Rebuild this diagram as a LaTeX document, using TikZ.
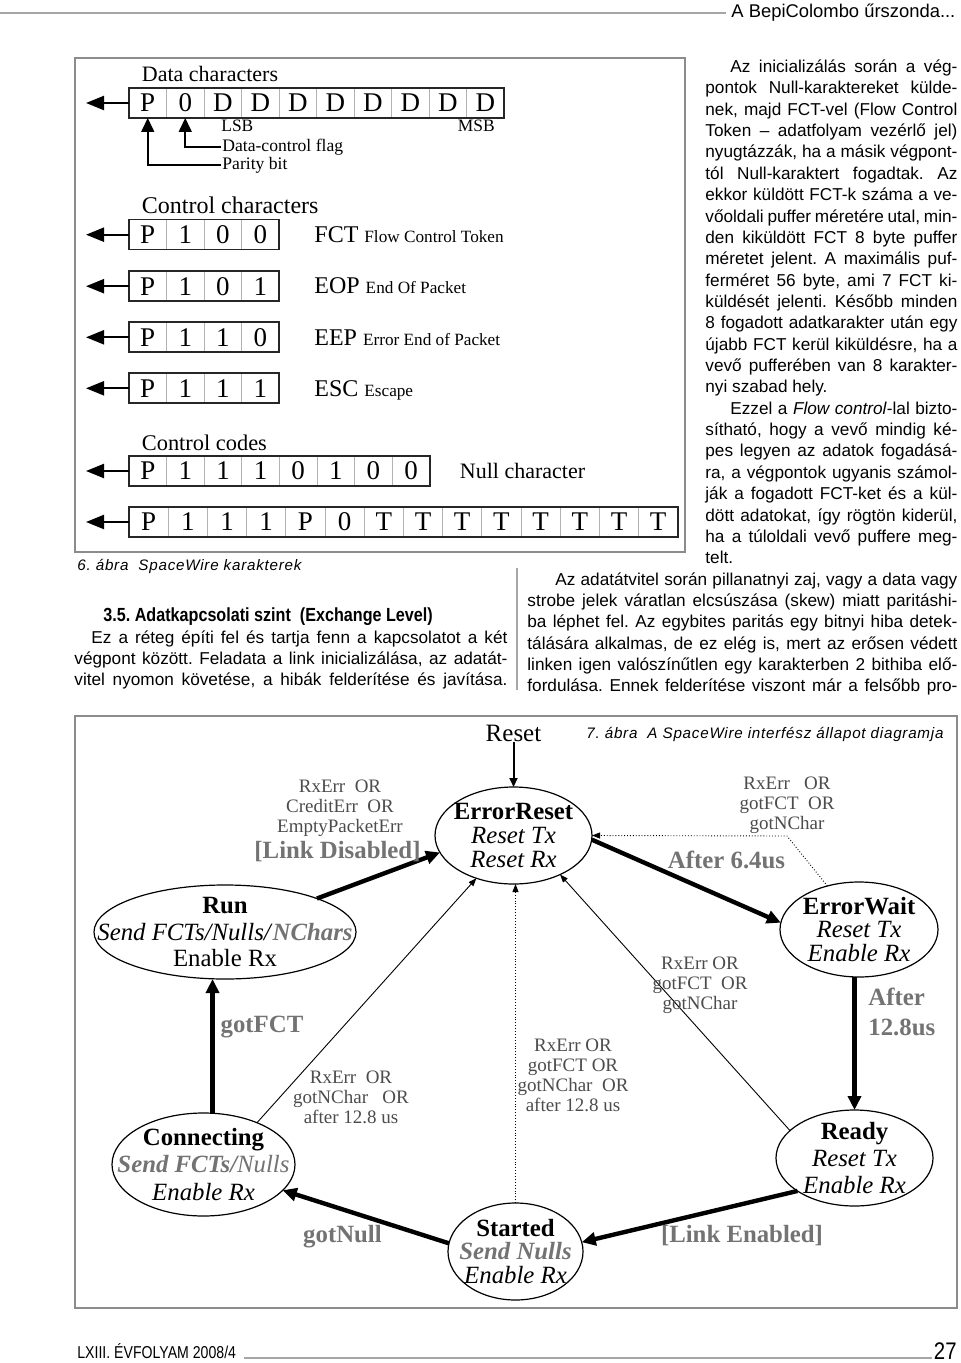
\documentclass[tikz,border=0pt]{standalone}
\usepackage{fontspec}
\usepackage{graphicx}
\setmainfont{Liberation Serif}
\setsansfont{Liberation Sans}
\newfontfamily\capfont[LetterSpace=5]{Liberation Sans}
\usetikzlibrary{arrows.meta,shapes.geometric}

\definecolor{framegray}{gray}{0.55}
\definecolor{condgray}{gray}{0.3}
\definecolor{guardgray}{gray}{0.45}

\newcommand\fullline[1]{\hbox to\hsize{#1}}
\newcommand\lastline[1]{\hbox{#1}}
\newcommand\textcol[2]{\vtop{\hsize=#1\relax #2}}
\newcommand\descr[1]{{\fontsize{8.6}{10}\selectfont #1}}

\begin{document}
\frenchspacing
\begin{tikzpicture}[x=0.5pt,y=-0.5pt,
  bitcell/.style={draw=gray!60,line width=0.5pt,minimum height=15pt,inner sep=0pt,outer sep=0pt,font=\fontsize{13.5}{15}\selectfont},
  bitframe/.style={draw=black!85,line width=0.8pt},
  bitarrow/.style={line width=1.1pt,-{Triangle[length=9pt,width=7pt]}},
  flagarrow/.style={line width=0.8pt,-{Triangle[length=7pt,width=6.5pt]}},
  heading/.style={anchor=base west,inner sep=0pt},
  kind/.style={anchor=base west,inner sep=0pt,font=\fontsize{12}{14}\selectfont},
  tag/.style={anchor=base west,inner sep=0pt,font=\fontsize{8.7}{10}\selectfont},
  flaglabel/.style={anchor=west,inner sep=0.5pt,font=\fontsize{8.8}{10}\selectfont},
  state/.style={ellipse,draw,line width=0.6pt,inner sep=0pt,outer sep=0pt},
  stext/.style={align=center,inner sep=0pt,font=\fontsize{12.4}{13.4}\selectfont},
  cond/.style={align=center,inner sep=0pt,text=condgray,font=\fontsize{9.5}{10}\selectfont},
  guard/.style={inner sep=0pt,text=guardgray,font=\bfseries\fontsize{12.4}{15}\selectfont},
  bigarrow/.style={line width=2.2pt,-{Triangle[length=7pt,width=6.5pt]}},
  thinarrow/.style={line width=0.45pt,-{Triangle[length=4pt,width=3pt]}},
  dotarrow/.style={thinarrow,densely dotted},
  bodytext/.style={anchor=base west,inner sep=0pt,font=\sffamily\fontsize{8.6}{10.68}\selectfont},
  caption/.style={anchor=base west,inner sep=0pt,font=\capfont\itshape\fontsize{7.6}{9}\selectfont}]
\fill[white] (0,0) rectangle (960,1363);
\useasboundingbox (0,0) rectangle (960,1363);

\draw[gray!70,line width=1.3pt] (0,13) -- (726,13);
\node[anchor=base west,inner sep=0pt,font=\sffamily\fontsize{9.2}{11}\selectfont] (runhead) at (731,18) {A BepiColombo űrszonda...};

% figure 6
\draw[framegray,line width=0.8pt] (75,58) rectangle (685,552);
\foreach \r/\y/\w/\n/\bits in {dat/103/37.5/10/{P,0,D,D,D,D,D,D,D,D},fct/234.7/37.5/4/{P,1,0,0},eop/286.2/37.5/4/{P,1,0,1},eep/337.3/37.5/4/{P,1,1,0},esc/388.3/37.5/4/{P,1,1,1},nul/471/37.6/8/{P,1,1,1,0,1,0,0},tim/522/39.2/14/{P,1,1,1,P,0,T,T,T,T,T,T,T,T}}{
  \foreach \s [count=\i] in \bits
    \node[bitcell,minimum width=0.5pt*\w] (\r-\i) at ({129+\w*(\i-0.5)},\y) {\s};
  \draw[bitframe] (\r-1.north west) rectangle (\r-\n.south east);
  \draw[bitarrow] (\r-1.west) -- ++(-43,0);
}
\node[heading,font=\fontsize{11}{13}\selectfont] (datahead) at (141.5,82) {Data characters};
\node[tag] (lsb) at (221,132) {LSB};
\node[tag] (msb) at (457.5,132) {MSB};
\node[flaglabel] (dcflag) at (221,147) {Data-control flag};
\node[flaglabel] (parity) at (221,165) {Parity bit};
\draw[flagarrow] (dcflag.west) -| (dat-2.south);
\draw[flagarrow] (parity.west) -| (dat-1.south);
\node[heading,font=\fontsize{12}{14}\selectfont] (ctrlhead) at (141.5,214) {Control characters};
\node[kind] (fctname) at (314,242.6) {FCT \descr{Flow Control Token}};
\node[kind] (eopname) at (314,294) {EOP \descr{End Of Packet}};
\node[kind] (eepname) at (314,345.2) {EEP \descr{Error End of Packet}};
\node[kind] (escname) at (314,396.2) {ESC \descr{Escape}};
\node[heading,font=\fontsize{11.2}{13}\selectfont] (codehead) at (141.5,450.5) {Control codes};
\node[heading,font=\fontsize{11}{13}\selectfont] (nullname) at (459.5,478.3) {Null character};
\node[caption] (cap6) at (77,570) {6. ábra~~SpaceWire karakterek};

% text columns
\node[bodytext] (colright) at (705,72.5) {\textcol{126pt}{%
\fullline{\hspace*{12.5pt}Az inicializálás során a vég-}
\fullline{pontok Null-karaktereket külde-}
\fullline{nek, majd FCT-vel (Flow Control}
\fullline{Token – adatfolyam vezérlő jel)}
\fullline{nyugtázzák, ha a másik végpont-}
\fullline{tól Null-karaktert fogadtak. Az}
\fullline{ekkor küldött FCT-k száma a ve-}
\fullline{vőoldali puffer méretére utal, min-}
\fullline{den kiküldött FCT 8 byte puffer}
\fullline{méretet jelent. A maximális puf-}
\fullline{ferméret 56 byte, ami 7 FCT ki-}
\fullline{küldését jelenti. Később minden}
\fullline{8 fogadott adatkarakter után egy}
\fullline{újabb FCT kerül kiküldésre, ha a}
\fullline{vevő pufferében van 8 karakter-}
\lastline{nyi szabad hely.}
\fullline{\hspace*{12.5pt}Ezzel a \textit{Flow control}-lal bizto-}
\fullline{sítható, hogy a vevő mindig ké-}
\fullline{pes legyen az adatok fogadásá-}
\fullline{ra, a végpontok ugyanis számol-}
\fullline{ják a fogadott FCT-ket és a kül-}
\fullline{dött adatokat, így rögtön kiderül,}
\fullline{ha a túloldali vevő puffere meg-}
\lastline{telt.}}};
\node[bodytext] (colwide) at (527,585) {\textcol{215pt}{%
\fullline{\hspace*{14pt}Az adatátvitel során pillanatnyi zaj, vagy a data vagy}
\fullline{strobe jelek váratlan elcsúszása (skew) miatt paritáshi-}
\fullline{ba léphet fel. Az egybites paritás egy bitnyi hiba detek-}
\fullline{tálására alkalmas, de ez elég is, mert az erősen védett}
\fullline{linken igen valószínűtlen egy karakterben 2 bithiba elő-}
\fullline{fordulása. Ennek felderítése viszont már a felsőbb pro-}}};
\draw[gray!70,line width=0.7pt] (517,568) -- (517,690);
\node[anchor=base west,inner sep=0pt,font=\sffamily\bfseries\fontsize{9.5}{11}\selectfont] (section) at (103,621.5) {\scalebox{0.85}[1]{3.5. Adatkapcsolati szint~~(Exchange Level)}};
\node[bodytext] (colleft) at (74,643) {\textcol{216.5pt}{%
\fullline{\hspace*{8.5pt}Ez a réteg építi fel és tartja fenn a kapcsolatot a két}
\fullline{végpont között. Feladata a link inicializálása, az adatát-}
\fullline{vitel nyomon követése, a hibák felderítése és javítása.}}};

% figure 7
\draw[framegray,line width=0.8pt] (75,716) rectangle (957,1308);
\node[caption] (cap7) at (586,738.5) {7. ábra~~A SpaceWire interfész állapot diagramja};
\node[inner sep=0pt,font=\fontsize{12.5}{14}\selectfont] (reset) at (513.5,733) {Reset};

\node[state,minimum width=78.5pt,minimum height=48.5pt] (ereset) at (513.5,835.5) {};
\node[stext,font=\fontsize{12.4}{12}\selectfont] (eresettxt) at (ereset) {\textbf{ErrorReset}\\\textit{Reset Tx}\\\textit{Reset Rx}};
\node[state,minimum width=131pt,minimum height=47pt] (run) at (225,932) {};
\node[stext] (runtxt) at (run) {\textbf{Run}\\\textit{Send FCTs/Nulls/}{\color{guardgray}\bfseries\itshape NChars}\\Enable Rx};
\node[state,minimum width=79pt,minimum height=47.5pt] (ewait) at (859,929.5) {};
\node[stext,font=\fontsize{12.4}{11.8}\selectfont] (ewaittxt) at (ewait) {\textbf{ErrorWait}\\\textit{Reset Tx}\\\textit{Enable Rx}};
\node[state,minimum width=78.5pt,minimum height=48pt] (ready) at (854.5,1158) {};
\node[stext] (readytxt) at (ready) {\textbf{Ready}\\\textit{Reset Tx}\\\textit{Enable Rx}};
\node[state,minimum width=67.5pt,minimum height=48.5pt] (started) at (515.5,1251.5) {};
\node[stext,font=\fontsize{12.4}{11.8}\selectfont] (startedtxt) at (started) {\textbf{Started}\\{\color{guardgray}\bfseries\itshape Send Nulls}\\\textit{Enable Rx}};
\node[state,minimum width=91.5pt,minimum height=51.5pt] (conn) at (203.5,1164.5) {};
\node[stext,font=\fontsize{12.4}{13.6}\selectfont] (conntxt) at (conn) {\textbf{Connecting}\\{\color{guardgray}\bfseries\itshape Send FCTs/}{\color{guardgray}\itshape Nulls}\\\textit{Enable Rx}};

\draw[line width=1pt,-{Triangle[length=4.5pt,width=4pt]}] (reset.south) -- (ereset.north);
\draw[bigarrow] (run.20) -- (ereset.193);
\draw[bigarrow] (ereset.-3) -- (ewait.175);
\coordinate (ewbend) at (787,836);
\draw[dotarrow] (ewait.126) -- (ewbend) -- (ereset.east);
\draw[bigarrow] (ewait.south -| ready.north) -- (ready.north);
\draw[thinarrow] (ready.157) -- (ereset.-40);
\draw[bigarrow] (ready.210) -- (started.8);
\draw[dotarrow] (started.north) -- (started.north |- ereset.south);
\draw[bigarrow] (started.173) -- (conn.-18);
\draw[bigarrow] (conn.80) -- (conn.80 |- run.south);
\draw[thinarrow] (conn.38) -- (ereset.229);

\node[cond] (runcond) at (340,808) {RxErr~~OR\\CreditErr~~OR\\EmptyPacketErr};
\node[guard] (disabled) at (337.5,852) {[Link Disabled]};
\node[cond] (waitcond) at (787,805) {RxErr~~~OR\\gotFCT~~OR\\gotNChar};
\node[guard] (after64) at (726.5,860) {After 6.4us};
\node[guard,align=left,anchor=west] (after128) at (868,1012) {After\\12.8us};
\node[cond] (readycond) at (700,985) {RxErr OR\\gotFCT~~OR\\gotNChar};
\node[cond] (startcond) at (573,1075) {RxErr OR\\gotFCT OR\\gotNChar~~OR\\after 12.8 us};
\node[cond] (conncond) at (351,1097) {RxErr~~OR\\gotNChar~~~OR\\after 12.8 us};
\node[guard] (gotfct) at (262,1027) {gotFCT};
\node[guard] (gotnull) at (342.5,1237) {gotNull};
\node[guard] (enabled) at (742,1236) {[Link Enabled]};

\node[anchor=base west,inner sep=0pt,font=\sffamily\fontsize{8.6}{10}\selectfont] (volume) at (77,1358) {\scalebox{0.82}[1]{LXIII. ÉVFOLYAM 2008/4}};
\draw[gray!70,line width=0.8pt] (244,1358) -- (932,1358);
\node[anchor=base east,inner sep=0pt,font=\sffamily\fontsize{12}{14}\selectfont] (pageno) at (957,1359) {\scalebox{0.85}[1]{27}};
\end{tikzpicture}
\end{document}
